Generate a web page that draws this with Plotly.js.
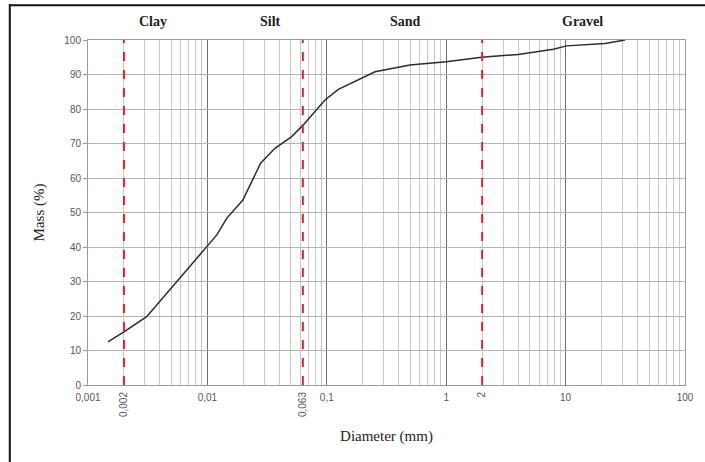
<!DOCTYPE html>
<html>
<head>
<meta charset="utf-8">
<script src="https://cdn.plot.ly/plotly-3.0.1.min.js"></script>
<style>
  html, body { margin: 0; padding: 0; background: #fff; }
  #chart { width: 705px; height: 462px; }
</style>
</head>
<body>
<div id="chart"></div>
<script>
// Grain-size distribution curve (cumulative mass passing vs particle diameter)
const diameterMm = [0.00147, 0.0020, 0.0031, 0.0100, 0.0120, 0.0145, 0.0198, 0.0279,
                    0.0368, 0.0508, 0.0635, 0.0966, 0.125, 0.2535, 0.497, 1.0,
                    1.98, 4.02, 7.9, 10.2, 21.4, 31.4];
const massPct    = [12.5, 15.4, 19.8, 40.1, 43.5, 48.3, 53.6, 64.3,
                    68.6, 72.0, 75.4, 82.6, 85.7, 90.8, 92.75, 93.7,
                    95.0, 95.8, 97.3, 98.3, 99.0, 100.0];

// Class boundaries between clay / silt / sand / gravel
const boundaryMm     = [0.002, 0.063, 2];
const boundaryLabels = ["0,002", "0,063", "2"];

// Decade ticks on the log axis
const decadeVals   = [0.001, 0.01, 0.1, 1, 10, 100];
const decadeLabels = ["0,001", "0,01", "0,1", "1", "10", "100"];

// Soil class names written above the plot
const classNames = ["Clay", "Silt", "Sand", "Gravel"];
const classPos   = [0.109, 0.305, 0.531, 0.829];

// Minor grid at 2..9 inside each decade
const minorVals = [];
for (let d = 0; d < decadeVals.length - 1; d++) {
  for (let k = 2; k <= 9; k++) minorVals.push(decadeVals[d] * k);
}

const tickFont = { family: "Liberation Sans, Arial, sans-serif", size: 10, color: "#555" };
const serif = "Liberation Serif, 'Times New Roman', serif";

const traces = [
  {
    x: diameterMm, y: massPct, type: "scatter", mode: "lines",
    line: { color: "#2b2b2b", width: 1.5 },
    hoverinfo: "x+y", showlegend: false
  }
];
boundaryMm.forEach(function (b) {
  traces.push({
    x: [b, b], y: [0, 100], type: "scatter", mode: "lines",
    xaxis: "x2", yaxis: "y",
    line: { color: "#e3202c", width: 2, dash: "dash" },
    showlegend: false, hoverinfo: "skip"
  });
});

const layout = {
  width: 705, height: 462,
  margin: { l: 88, r: 20, t: 40, b: 77 },
  paper_bgcolor: "#fff", plot_bgcolor: "#fff",
  showlegend: false,
  xaxis: {
    type: "log", range: [-3, 2],
    tickmode: "array", tickvals: decadeVals, ticktext: decadeLabels,
    tickfont: tickFont, tickangle: 0,
    showgrid: true, gridcolor: "#6e6e6e", gridwidth: 1,
    minor: { tickmode: "array", tickvals: minorVals, showgrid: true, gridcolor: "#c8c8c8", gridwidth: 1, ticks: "" },
    showline: true, linecolor: "#9a9a9a", linewidth: 1, mirror: true,
    ticks: "outside", ticklen: 3, tickcolor: "rgba(0,0,0,0)", zeroline: false,
    title: { text: "Diameter (mm)", font: { family: serif, size: 15, color: "#222" }, standoff: 28 }
  },
  xaxis2: {
    type: "log", range: [-3, 2], overlaying: "x", anchor: "y", side: "bottom",
    tickmode: "array", tickvals: boundaryMm, ticktext: boundaryLabels,
    tickangle: -90, tickfont: tickFont,
    showgrid: false, zeroline: false, showline: false,
    ticks: "outside", ticklen: 2, tickcolor: "rgba(0,0,0,0)"
  },
  yaxis: {
    range: [0, 100], dtick: 10, tick0: 0,
    tickfont: tickFont,
    showgrid: true, gridcolor: "#b4b4b4", gridwidth: 1,
    showline: true, linecolor: "#9a9a9a", linewidth: 1, mirror: true,
    ticks: "outside", ticklen: 4, tickcolor: "#9a9a9a",
    zeroline: false,
    title: { text: "Mass (%)", font: { family: serif, size: 15, color: "#222" }, standoff: 16 }
  },
  annotations: classNames.map(function (name, i) {
    return {
      text: "<b>" + name + "</b>", xref: "paper", yref: "paper",
      x: classPos[i], y: 1.054, xanchor: "center", yanchor: "middle",
      showarrow: false, font: { family: serif, size: 14, color: "#222" }
    };
  }),
  shapes: [
    // frame along the top and left edge of the figure
    { type: "line", xref: "paper", yref: "paper", x0: -0.13, x1: 1.04, y0: 1.101, y1: 1.101,
      line: { color: "#111", width: 2 } },
    { type: "line", xref: "paper", yref: "paper", x0: -0.131, x1: -0.131, y0: 1.104, y1: -0.23,
      line: { color: "#111", width: 2 } }
  ]
};

Plotly.newPlot("chart", traces, layout, { staticPlot: true, displayModeBar: false });
</script>
</body>
</html>
